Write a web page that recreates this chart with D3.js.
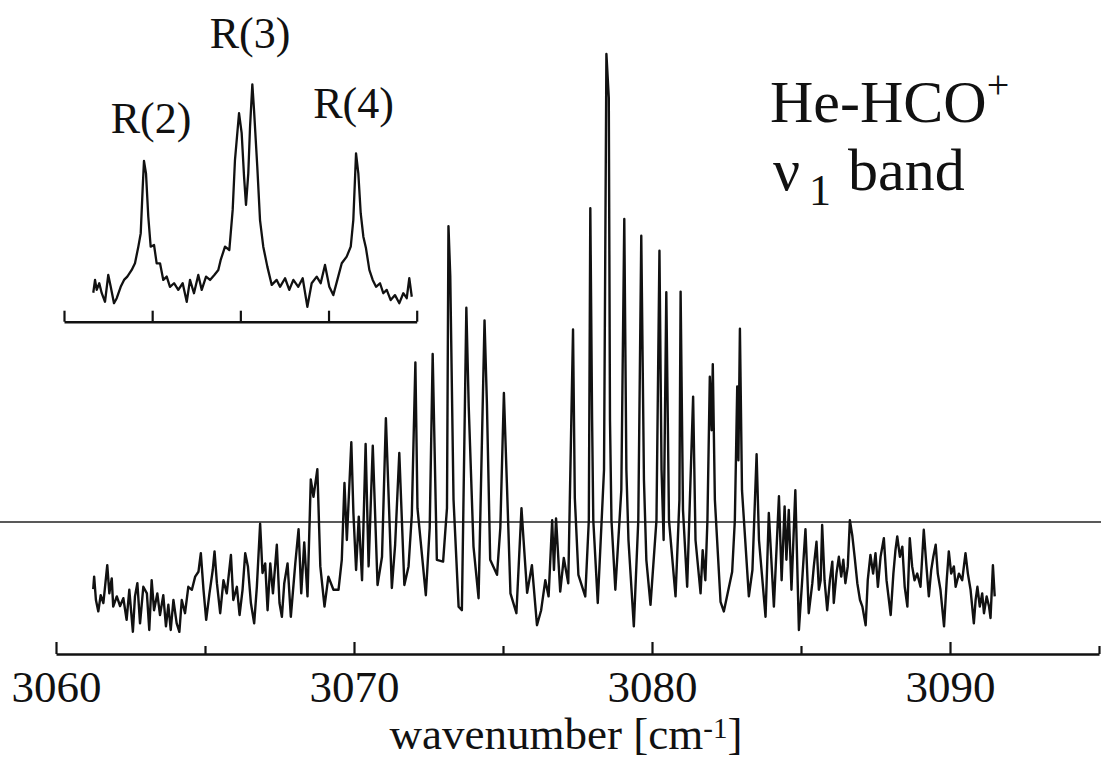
<!DOCTYPE html>
<html>
<head>
<meta charset="utf-8">
<script src="https://cdn.jsdelivr.net/npm/d3@7"></script>
<style>
	body { margin: 0; background: #fff; }
	text { font-family: "Liberation Serif", "Times New Roman", serif; fill: #111; }
</style>
</head>
<body>
<div class="spectrum"></div>
<script>
// main spectrum, wavenumber [cm-1] and relative intensity (tallest line = 100)
const mainWavenumber = [
	3061.25, 3061.28, 3061.34, 3061.42, 3061.50, 3061.59, 3061.72, 3061.79, 3061.87, 3061.92,
	3062.04, 3062.15, 3062.26, 3062.37, 3062.46, 3062.58, 3062.65, 3062.73, 3062.82, 3062.93,
	3063.05, 3063.13, 3063.21, 3063.29, 3063.40, 3063.49, 3063.60, 3063.69, 3063.77, 3063.85,
	3063.94, 3064.05, 3064.14, 3064.22, 3064.33, 3064.44, 3064.56, 3064.67, 3064.78, 3064.86,
	3064.95, 3065.04, 3065.15, 3065.26, 3065.32, 3065.40, 3065.51, 3065.62, 3065.73, 3065.87,
	3065.95, 3066.07, 3066.16, 3066.26, 3066.35, 3066.44, 3066.54, 3066.65, 3066.74, 3066.85,
	3066.93, 3067.02, 3067.10, 3067.19, 3067.28, 3067.41, 3067.50, 3067.58, 3067.66, 3067.77,
	3067.88, 3068.03, 3068.14, 3068.23, 3068.33, 3068.44, 3068.55, 3068.64, 3068.77, 3068.87,
	3069.01, 3069.14, 3069.31, 3069.48, 3069.59, 3069.68, 3069.76, 3069.91, 3069.98, 3070.07,
	3070.16, 3070.27, 3070.39, 3070.49, 3070.63, 3070.79, 3070.94, 3071.07, 3071.27, 3071.38,
	3071.52, 3071.69, 3071.83, 3071.94, 3072.06, 3072.13, 3072.41, 3072.54, 3072.64, 3072.78,
	3072.99, 3073.12, 3073.17, 3073.23, 3073.34, 3073.51, 3073.62, 3073.77, 3073.85, 3074.01,
	3074.18, 3074.38, 3074.46, 3074.57, 3074.80, 3074.91, 3075.03, 3075.13, 3075.25, 3075.45,
	3075.62, 3075.69, 3075.81, 3075.97, 3076.14, 3076.28, 3076.42, 3076.53, 3076.65, 3076.71,
	3076.78, 3076.92, 3077.04, 3077.19, 3077.35, 3077.41, 3077.53, 3077.76, 3077.88, 3077.93,
	3077.99, 3078.03, 3078.18, 3078.39, 3078.47, 3078.55, 3078.59, 3078.64, 3078.77, 3078.97,
	3079.07, 3079.14, 3079.21, 3079.39, 3079.54, 3079.64, 3079.73, 3079.81, 3079.95, 3080.15,
	3080.25, 3080.32, 3080.39, 3080.48, 3080.57, 3080.79, 3080.92, 3080.96, 3081.04, 3081.18,
	3081.38, 3081.46, 3081.63, 3081.70, 3081.79, 3081.86, 3081.94, 3082.00, 3082.04, 3082.11,
	3082.30, 3082.41, 3082.69, 3082.78, 3082.86, 3082.90, 3082.95, 3083.02, 3083.25, 3083.37,
	3083.51, 3083.59, 3083.81, 3083.92, 3084.09, 3084.26, 3084.35, 3084.45, 3084.51, 3084.59,
	3084.68, 3084.81, 3084.93, 3085.04, 3085.15, 3085.21, 3085.26, 3085.38, 3085.43, 3085.52,
	3085.60, 3085.66, 3085.71, 3085.79, 3085.88, 3085.97, 3086.05, 3086.10, 3086.19, 3086.27,
	3086.35, 3086.42, 3086.49, 3086.57, 3086.64, 3086.72, 3086.80, 3086.89, 3086.98, 3087.06,
	3087.17, 3087.24, 3087.33, 3087.42, 3087.50, 3087.58, 3087.67, 3087.78, 3087.87, 3087.95,
	3088.01, 3088.10, 3088.17, 3088.23, 3088.32, 3088.40, 3088.48, 3088.57, 3088.65, 3088.73,
	3088.81, 3088.90, 3089.01, 3089.12, 3089.21, 3089.29, 3089.37, 3089.44, 3089.52, 3089.59,
	3089.68, 3089.80, 3089.89, 3089.96, 3090.04, 3090.13, 3090.19, 3090.30, 3090.41, 3090.52,
	3090.60, 3090.69, 3090.80, 3090.86, 3090.92, 3091.00, 3091.08, 3091.14, 3091.23, 3091.31,
	3091.36, 3091.44, 3091.50
];
const mainIntensity = [
	10.8, 12.9, 9.0, 7.1, 9.8, 8.5, 14.8, 10.1, 12.6, 7.9,
	9.6, 8.0, 9.3, 5.7, 10.7, 3.7, 9.6, 11.8, 5.1, 11.2,
	10.1, 4.0, 12.3, 7.3, 10.1, 6.5, 9.8, 4.6, 8.2, 4.0,
	9.0, 5.1, 3.7, 9.0, 6.8, 11.2, 10.7, 12.9, 13.7, 16.8,
	10.7, 5.7, 10.1, 14.0, 17.1, 11.8, 6.8, 12.3, 10.1, 16.5,
	9.0, 11.2, 6.5, 10.7, 16.8, 14.6, 8.5, 5.1, 11.2, 21.7,
	13.5, 15.1, 7.3, 15.1, 10.1, 18.2, 8.5, 6.2, 11.8, 15.1,
	6.2, 15.1, 20.8, 10.1, 18.6, 9.6, 29.1, 26.2, 30.8, 14.6,
	7.9, 12.9, 10.7, 10.7, 15.7, 28.5, 19.0, 35.3, 23.5, 14.0,
	22.9, 12.3, 35.0, 14.6, 34.7, 11.5, 16.2, 39.3, 11.0, 18.2,
	33.5, 11.5, 14.6, 23.2, 48.6, 24.3, 9.8, 21.0, 50.0, 15.7,
	15.4, 24.3, 71.3, 63.0, 25.7, 7.9, 7.3, 57.7, 41.2, 17.9,
	9.3, 55.6, 41.8, 15.7, 13.2, 21.0, 43.5, 28.5, 10.1, 6.8,
	24.3, 19.0, 10.2, 14.8, 4.8, 7.3, 12.3, 9.6, 22.3, 14.0,
	22.6, 10.4, 16.0, 11.8, 54.1, 26.0, 13.2, 9.6, 22.3, 74.3,
	39.0, 22.3, 8.5, 30.7, 100.0, 92.7, 39.0, 22.3, 10.7, 27.3,
	72.5, 30.7, 19.0, 4.6, 22.3, 69.7, 29.0, 15.7, 8.2, 22.3,
	67.2, 30.7, 19.0, 60.3, 22.3, 9.6, 25.7, 60.4, 24.0, 11.2,
	42.9, 19.0, 10.1, 17.3, 12.3, 22.3, 46.2, 37.3, 48.3, 25.7,
	8.7, 7.1, 13.7, 22.3, 44.6, 32.3, 54.2, 27.3, 9.6, 14.0,
	33.3, 19.0, 6.2, 23.5, 7.9, 26.3, 12.3, 24.6, 15.7, 24.0,
	10.7, 27.3, 4.0, 12.3, 20.8, 13.4, 6.8, 11.8, 14.6, 18.7,
	10.7, 12.3, 21.5, 12.3, 7.3, 12.3, 15.4, 8.5, 13.4, 16.2,
	12.9, 15.7, 11.8, 14.6, 22.3, 19.8, 16.2, 11.8, 9.0, 7.9,
	4.8, 12.3, 16.5, 13.4, 16.8, 11.2, 16.2, 19.3, 12.3, 9.0,
	6.5, 13.4, 17.3, 19.6, 16.2, 17.9, 11.2, 7.9, 19.3, 14.6,
	12.3, 13.4, 11.2, 20.7, 14.6, 9.6, 14.0, 16.2, 18.2, 13.4,
	10.7, 4.6, 12.3, 17.1, 13.4, 14.6, 11.2, 13.4, 12.3, 16.8,
	13.4, 10.7, 5.1, 9.0, 11.2, 7.9, 10.1, 6.8, 9.6, 7.9,
	6.0, 14.8, 9.6
];

// inset: R(2), R(3), R(4) lines, relative position and intensity
const insetPosition = [
	0.332, 0.352, 0.371, 0.400, 0.428, 0.465, 0.502, 0.530, 0.567, 0.598,
	0.643, 0.681, 0.718, 0.768, 0.805, 0.843, 0.870, 0.893, 0.907, 0.930,
	0.956, 0.983, 1.021, 1.051, 1.089, 1.126, 1.165, 1.202, 1.248, 1.296,
	1.346, 1.392, 1.429, 1.474, 1.523, 1.562, 1.611, 1.656, 1.705, 1.750,
	1.777, 1.826, 1.875, 1.913, 1.939, 1.985, 2.015, 2.042, 2.064, 2.090,
	2.110, 2.136, 2.155, 2.192, 2.223, 2.260, 2.306, 2.356, 2.412, 2.450,
	2.507, 2.555, 2.601, 2.657, 2.707, 2.760, 2.809, 2.866, 2.911, 2.960,
	3.009, 3.054, 3.100, 3.150, 3.206, 3.252, 3.281, 3.312, 3.338, 3.365,
	3.395, 3.425, 3.463, 3.501, 3.539, 3.584, 3.621, 3.660, 3.705, 3.754,
	3.803, 3.848, 3.887, 3.916, 3.944
];
const insetIntensity = [
	12.2, 17.6, 13.4, 16.2, 12.0, 8.4, 19.7, 14.7, 7.8, 9.9,
	14.7, 17.6, 19.0, 21.8, 24.6, 31.6, 37.2, 56.9, 67.7, 62.5,
	44.2, 31.6, 32.3, 24.6, 24.6, 17.6, 19.0, 14.7, 16.2, 13.4,
	16.2, 8.4, 17.6, 12.0, 19.7, 13.4, 19.0, 17.6, 19.7, 21.8,
	26.0, 31.6, 30.2, 47.1, 68.1, 87.8, 79.4, 61.1, 49.2, 62.5,
	82.1, 100.0, 89.2, 65.3, 42.8, 31.6, 23.2, 15.5, 17.6, 14.7,
	18.3, 13.4, 17.6, 14.7, 18.3, 6.3, 16.2, 19.0, 16.2, 23.9,
	14.7, 11.2, 17.6, 24.6, 27.4, 31.6, 42.8, 70.9, 62.5, 45.7,
	35.8, 30.9, 21.8, 17.6, 14.7, 16.2, 12.0, 13.4, 9.1, 11.2,
	7.8, 12.0, 9.9, 18.3, 10.5
];

const majorTicks = [3060, 3070, 3080, 3090];
const minorTicks = [3065, 3075, 3085, 3095];
const insetTicks = [0, 1, 2, 3, 4];
const insetLabels = ['R(2)', 'R(3)', 'R(4)'];
const referenceLevel = 22;

const width = 1101;
const height = 762;
const svg = d3.select('.spectrum')
	.append('svg')
	.attr('width', width)
	.attr('height', height);

svg.append('rect')
	.attr('width', width)
	.attr('height', height)
	.attr('fill', '#fff');

const x = d3.scaleLinear().domain([3060, 3095]).range([56, 1099]);
const y = d3.scaleLinear().domain([0, 100]).range([654, 54]);
const xi = d3.scaleLinear().domain([0, 4]).range([64, 416.7]);
const yi = d3.scaleLinear().domain([0, 100]).range([321.7, 84.3]);

// horizontal reference line across the whole figure
svg.append('line')
	.attr('x1', 0)
	.attr('x2', width)
	.attr('y1', y(referenceLevel))
	.attr('y2', y(referenceLevel))
	.attr('stroke', '#222')
	.attr('stroke-width', 1.3);

const mainData = mainWavenumber.map(function (d, i) { return [d, mainIntensity[i]]; });
const line = d3.line()
	.x(function (d) { return x(d[0]); })
	.y(function (d) { return y(d[1]); });

svg.append('path')
	.datum(mainData)
	.attr('d', line)
	.attr('fill', 'none')
	.attr('stroke', '#111')
	.attr('stroke-width', 2.4)
	.attr('stroke-linejoin', 'round');

// main axis, ticks pointing up, labels below
const axis = svg.append('g')
	.attr('transform', 'translate(0,' + y(0) + ')')
	.call(d3.axisBottom(x).tickValues(majorTicks).tickSize(-12).tickSizeOuter(0).tickPadding(16).tickFormat(d3.format('d')));
axis.select('.domain').attr('stroke', '#111').attr('stroke-width', 2.4);
axis.selectAll('.tick line').attr('stroke', '#111').attr('stroke-width', 2.2);
axis.selectAll('.tick text')
	.attr('font-size', '45px')
	.attr('font-family', '"Liberation Serif", "Times New Roman", serif')
	.attr('fill', '#111');

const minor = svg.append('g')
	.attr('transform', 'translate(0,' + y(0) + ')')
	.call(d3.axisBottom(x).tickValues(minorTicks).tickSize(-8).tickFormat(''));
minor.select('.domain').remove();
minor.selectAll('.tick line').attr('stroke', '#111').attr('stroke-width', 2.2);

// axis title
const title = svg.append('text')
	.attr('x', 566)
	.attr('y', 749)
	.attr('text-anchor', 'middle')
	.attr('font-size', '45px');
title.append('tspan').text('wavenumber [cm');
title.append('tspan').attr('font-size', '29px').attr('dy', -11).text('-1');
title.append('tspan').attr('dy', 11).text(']');

// inset
const insetData = insetPosition.map(function (d, i) { return [d, insetIntensity[i]]; });
const insetLine = d3.line()
	.x(function (d) { return xi(d[0]); })
	.y(function (d) { return yi(d[1]); });

svg.append('path')
	.datum(insetData)
	.attr('d', insetLine)
	.attr('fill', 'none')
	.attr('stroke', '#111')
	.attr('stroke-width', 2.3)
	.attr('stroke-linejoin', 'round');

const insetAxis = svg.append('g')
	.attr('transform', 'translate(0,' + yi(0) + ')')
	.call(d3.axisBottom(xi).tickValues(insetTicks).tickSize(-11).tickSizeOuter(0).tickFormat(''));
insetAxis.select('.domain').attr('stroke', '#111').attr('stroke-width', 2.4);
insetAxis.selectAll('.tick line').attr('stroke', '#111').attr('stroke-width', 2.2);

const labelPos = [[151, 133], [250, 48], [353.5, 118]];
svg.selectAll('.rlabel')
	.data(insetLabels)
	.enter()
	.append('text')
	.attr('class', 'rlabel')
	.attr('x', function (d, i) { return labelPos[i][0]; })
	.attr('y', function (d, i) { return labelPos[i][1]; })
	.attr('text-anchor', 'middle')
	.attr('font-size', '44px')
	.text(function (d) { return d; });

// species label
const species = svg.append('text')
	.attr('x', 770)
	.attr('y', 122)
	.attr('font-size', '60px');
species.append('tspan').text('He-HCO');
species.append('tspan').attr('font-size', '40px').attr('dy', -24).text('+');

svg.append('text')
	.attr('x', 773)
	.attr('y', 190)
	.attr('font-size', '60px')
	.text('\u03bd');
svg.append('text')
	.attr('x', 809)
	.attr('y', 205)
	.attr('font-size', '44px')
	.text('1');
svg.append('text')
	.attr('x', 848)
	.attr('y', 190)
	.attr('font-size', '60px')
	.text('band');
</script>
</body>
</html>
